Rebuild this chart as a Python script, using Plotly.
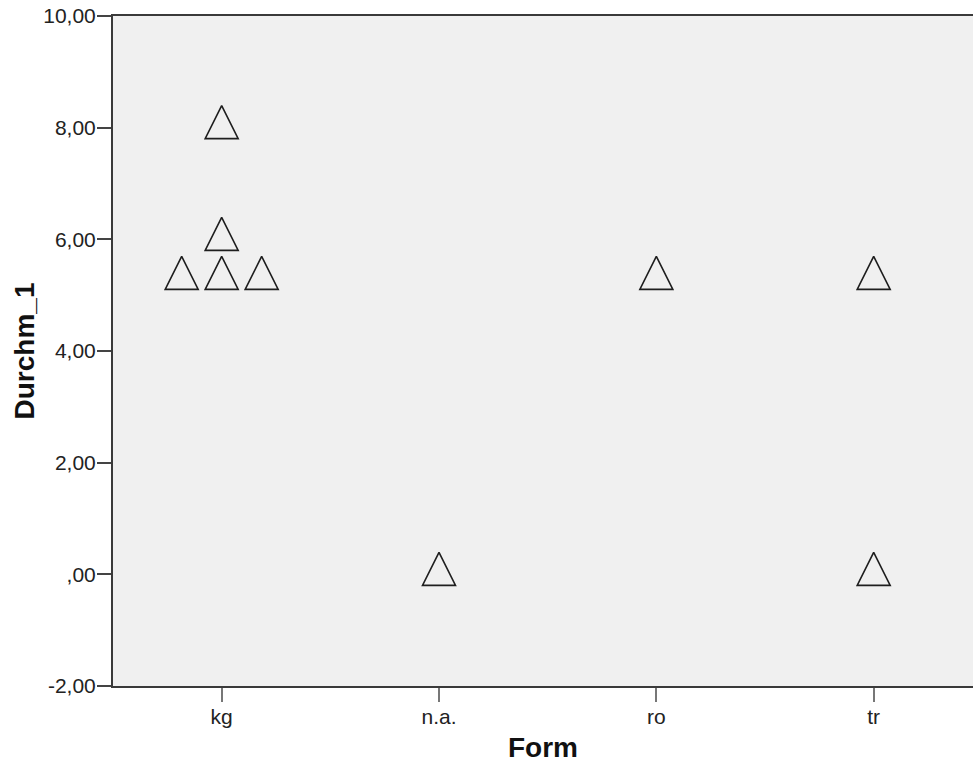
import plotly.graph_objects as go

# ---- data ----
categories = ["kg", "n.a.", "ro", "tr"]
point_category = ["kg", "kg", "kg", "kg", "kg", "n.a.", "ro", "tr", "tr"]
durchm_1 = [5.3, 5.3, 5.3, 6.0, 8.0, 0.0, 5.3, 5.3, 0.0]
jitter_slot = [-1, 0, 1, 0, 0, 0, 0, 0, 0]   # SPSS stacking of identical points
y_tick_vals = [-2, 0, 2, 4, 6, 8, 10]
y_tick_text = ["-2,00", ",00", "2,00", "4,00", "6,00", "8,00", "10,00"]

JITTER = 0.184
xpos = [categories.index(c) + j * JITTER for c, j in zip(point_category, jitter_slot)]

fig = go.Figure()
fig.add_trace(go.Scatter(
    x=xpos, y=durchm_1, mode="markers",
    marker=dict(symbol="arrow-down", angle=180, standoff=22, size=33,
                color="rgba(0,0,0,0)",
                line=dict(color="#1e1e1e", width=1.6)),
    showlegend=False, hoverinfo="y",
))

FONT = "Liberation Sans, Arial, sans-serif"
fig.update_layout(
    width=973, height=767,
    margin=dict(l=113, r=0, t=16, b=81),
    paper_bgcolor="white", plot_bgcolor="#f0f0f0",
    font=dict(family=FONT, size=21, color="#222"),
    xaxis=dict(
        range=[-0.5, 3.457], tickvals=list(range(len(categories))), ticktext=categories,
        showgrid=False, zeroline=False,
        showline=True, linecolor="#3a3a3a", linewidth=2, mirror=True,
        ticks="outside", ticklen=14, tickwidth=1.5, tickcolor="#777",
        tickfont=dict(size=21, color="#222"), ticklabelstandoff=-3,
        title=dict(text="<b>Form</b>", font=dict(size=28, color="#111"), standoff=10),
    ),
    yaxis=dict(
        range=[-2, 10], tickvals=y_tick_vals, ticktext=y_tick_text,
        showgrid=False, zeroline=False,
        showline=True, linecolor="#3a3a3a", linewidth=2,
        ticks="outside", ticklen=14, tickwidth=1.5, tickcolor="#444",
        tickfont=dict(size=21, color="#222"), ticklabelstandoff=-3,
        title=dict(text="<b>Durchm_1</b>", font=dict(size=28, color="#111"), standoff=0),
    ),
)

fig.write_html(
    "out.html",
    config={"displayModeBar": False},
    post_script="document.body.style.margin='0';document.body.style.overflow='hidden';",
)
